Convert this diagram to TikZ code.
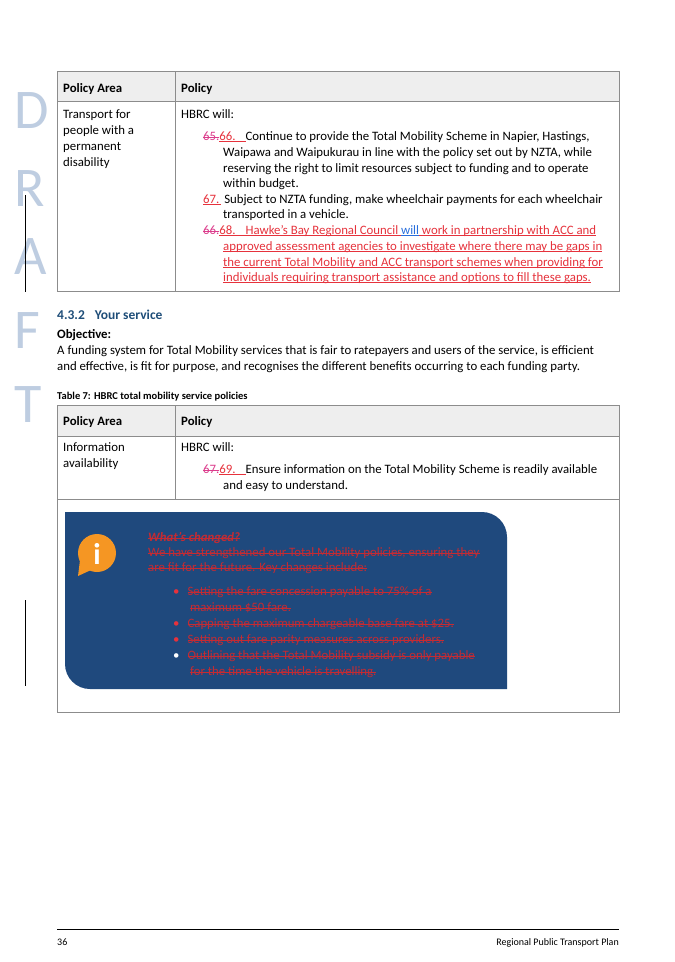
\documentclass[tikz,border=0pt]{standalone}
\usepackage{fontspec}
\setmainfont{Carlito}
\definecolor{hdrgrey}{RGB}{238,238,238}
\definecolor{boxblue}{RGB}{31,73,125}
\definecolor{insred}{RGB}{230,50,60}
\definecolor{delpink}{RGB}{220,60,140}
\definecolor{insblue}{RGB}{40,110,220}
\definecolor{draftblue}{RGB}{190,205,225}
\definecolor{headteal}{RGB}{31,78,121}
\definecolor{iconorange}{RGB}{245,150,35}
\tikzset{
    txt/.style={anchor=base west, inner sep=0, font=\fontsize{12.8}{15}\selectfont},
    bold/.style={txt, font=\fontsize{12.8}{15}\selectfont\bfseries},
    draft/.style={anchor=north west, inner sep=0, text=draftblue, font=\fontsize{56}{56}\selectfont},
    strk/.style={txt, text=insred!85!black},
    grid/.style={draw=black!45, line width=0.7pt}
}
\newsavebox{\markbox}
\newcommand{\uln}[1]{\sbox{\markbox}{#1}\rlap{\rule[-1.8pt]{\wd\markbox}{0.5pt}}\usebox{\markbox}}
\newcommand{\stk}[1]{\sbox{\markbox}{#1}\rlap{\rule[3pt]{\wd\markbox}{0.5pt}}\usebox{\markbox}}
\newcommand{\ins}[1]{\textcolor{insred}{\uln{#1}}}
\newcommand{\del}[1]{\textcolor{delpink}{\stk{#1}}}
\begin{document}
\begin{tikzpicture}[x=1pt,y=-1pt]
    \useasboundingbox[fill=white] (0,0) rectangle (675,962);
    % draft letters in the margin
    \foreach \l/\y in {D/92,R/170,A/238,F/312,T/386}
        \node[draft] (d\l) at (14,\y) {\l};
    \draw[line width=1pt] (25,195) -- (25,292);
    \draw[line width=1pt] (25,600) -- (25,686);
    % first table
    \fill[hdrgrey] (57,71) rectangle (619,101);
    \draw[grid] (57,71) rectangle (619,291);
    \draw[grid] (57,101) -- (619,101);
    \draw[grid] (175,71) -- (175,291);
    \node[bold] (h1) at (63,92) {Policy Area};
    \node[bold] (h2) at (181,92) {Policy};
    \node[txt] (a1) at (63,118) {Transport for};
    \node[txt] (a2) at (63,134) {people with a};
    \node[txt] (a3) at (63,150) {permanent};
    \node[txt] (a4) at (63,166) {disability};
    \node[txt] (p0) at (181,118) {HBRC will:};
    \node[txt] (p1) at (203,140) {\del{65.}\ins{66.\hspace{10pt}}Continue to provide the Total Mobility Scheme in Napier, Hastings,};
    \node[txt] (p2) at (223,156) {Waipawa and Waipukurau in line with the policy set out by NZTA, while};
    \node[txt] (p3) at (223,172) {reserving the right to limit resources subject to funding and to operate};
    \node[txt] (p4) at (223,187) {within budget.};
    \node[txt] (p5) at (203,203) {\ins{67.\hspace{2pt}} Subject to NZTA funding, make wheelchair payments for each wheelchair};
    \node[txt] (p6) at (223,218) {transported in a vehicle.};
    \node[txt] (p7) at (203,234) {\del{66.}\ins{68.\hspace{10pt}Hawke’s Bay Regional Council }\textcolor{insblue}{\uln{will}}\ins{ work in partnership with ACC and}};
    \node[txt] (p8) at (223,250) {\ins{approved assessment agencies to investigate where there may be gaps in}};
    \node[txt] (p9) at (223,266) {\ins{the current Total Mobility and ACC transport schemes when providing for}};
    \node[txt] (p10) at (223,281) {\ins{individuals requiring transport assistance and options to fill these gaps.}};
    % section text
    \node[txt, text=headteal, font=\fontsize{13.5}{15}\selectfont\bfseries] (sec) at (57,319) {4.3.2\hspace{10pt}Your service};
    \node[bold] (obj) at (57,338) {Objective:};
    \node[txt] (o1) at (57,354) {A funding system for Total Mobility services that is fair to ratepayers and users of the service, is efficient};
    \node[txt] (o2) at (57,370) {and effective, is fit for purpose, and recognises the different benefits occurring to each funding party.};
    \node[bold, font=\fontsize{10.5}{12}\selectfont\bfseries] (cap) at (57,399) {Table 7: HBRC total mobility service policies};
    % second table
    \fill[hdrgrey] (57,405) rectangle (619,436);
    \draw[grid] (57,405) rectangle (619,712);
    \draw[grid] (57,436) -- (619,436);
    \draw[grid] (57,499) -- (619,499);
    \draw[grid] (175,405) -- (175,499);
    \node[bold] (g1) at (63,425) {Policy Area};
    \node[bold] (g2) at (181,425) {Policy};
    \node[txt] (b1) at (63,451) {Information};
    \node[txt] (b2) at (63,467) {availability};
    \node[txt] (q0) at (181,451) {HBRC will:};
    \node[txt] (q1) at (203,473) {\del{67.}\ins{69.\hspace{10pt}}Ensure information on the Total Mobility Scheme is readily available};
    \node[txt] (q2) at (223,489) {and easy to understand.};
    % info box
    \fill[boxblue] (65,512) -- (482,512) arc[start angle=270, end angle=360, radius=25] -- (507,689)
        -- (90,689) arc[start angle=90, end angle=180, radius=25] -- cycle;
    \fill[iconorange] (97,553) circle (19);
    \fill[iconorange] (80,560) -- (91,570) -- (78,576) -- cycle;
    \node[anchor=center, text=white, font=\fontsize{30}{30}\selectfont\bfseries] (ic) at (97,554) {i};
    \node[strk, font=\fontsize{12.8}{15}\selectfont\bfseries\itshape] (w0) at (148,541) {\stk{What’s changed?}};
    \node[strk] (w1) at (148,556) {\stk{We have strengthened our Total Mobility policies, ensuring they}};
    \node[strk] (w2) at (148,571) {\stk{are fit for the future. Key changes include:}};
    \foreach \y/\c/\t in {595/insred/{Setting the fare concession payable to 75\% of a},
                          627/insred/{Capping the maximum chargeable base fare at \$25.},
                          643/insred/{Setting out fare parity measures across providers.},
                          659/white/{Outlining that the Total Mobility subsidy is only payable}}
        \node[strk] at (173,\y) {\textcolor{\c}{\textbullet}\hspace{8pt}\stk{\t}};
    \node[strk] (w4) at (190,611) {\stk{maximum \$50 fare.}};
    \node[strk] (w8) at (190,675) {\stk{for the time the vehicle is travelling.}};
    % footer
    \draw[line width=0.5pt] (57,929) -- (619,929);
    \node[txt, font=\fontsize{10}{12}\selectfont] (pg) at (57,945) {36};
    \node[txt, anchor=base east, font=\fontsize{10}{12}\selectfont] (ft) at (619,945) {Regional Public Transport Plan};
\end{tikzpicture}
\end{document}
